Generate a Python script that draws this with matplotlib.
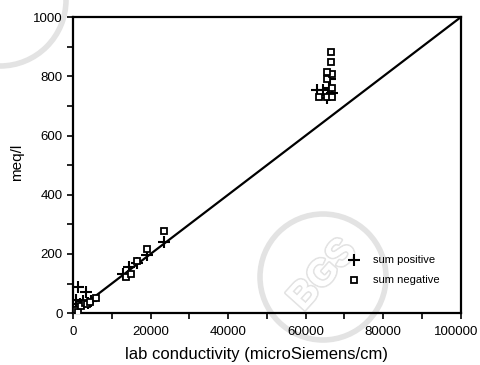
import matplotlib
matplotlib.use("Agg")
from matplotlib import pyplot as plt
from matplotlib.patches import Circle
from matplotlib.transforms import ScaledTranslation
import matplotlib.patheffects as pe
import numpy as np

plt.rcParams['font.family'] = ['Liberation Sans', 'DejaVu Sans']

# lab conductivity (microSiemens/cm) vs ion sums (meq/l)
pos_x = [300, 700, 900, 1400, 1800, 2600, 3400, 4000, 4600, 12800, 14500, 16400,
         19200, 23500, 63000, 64500, 65800, 66200, 65500, 66800, 66000]
pos_y = [5, 20, 45, 89, 30, 40, 72, 35, 42, 134, 156, 169,
         196, 242, 753, 753, 736, 790, 727, 745, 760]
neg_x = [200, 800, 1400, 2200, 3100, 3700, 4400, 5900, 13600, 15000, 16400,
         19200, 23500, 63500, 65400, 66700, 65400, 66700, 66700, 65400, 66500, 66500]
neg_y = [2, 12, 5, 25, 33, 30, 38, 52, 121, 134, 176,
         218, 277, 729, 729, 729, 790, 762, 807, 815, 848, 882]
line_x = [0, 100000]
line_y = [0, 1000]

fig = plt.figure(figsize=(4.8, 3.65), dpi=100)
ax = fig.add_axes([0.152, 0.142, 0.808, 0.811])
ax.patch.set_alpha(0)

# faint watermark (pixel coordinates)
wm = '#e3e3e3'
fig.patches.append(Circle((323, 88), 63, transform=None, fill=False,
                          edgecolor=wm, lw=4, zorder=-5))
fig.patches.append(Circle((0, 365), 66, transform=None, fill=False,
                          edgecolor=wm, lw=4, zorder=-5))
t = fig.text(323 / 480, 90 / 365, 'BGS', rotation=48, ha='center', va='center',
             fontsize=27, fontweight='bold', color='white', zorder=-4)
t.set_path_effects([pe.withStroke(linewidth=2.5, foreground=wm), pe.Normal()])

ax.plot(line_x, line_y, color='black', lw=1.6, zorder=2)
ax.plot(pos_x, pos_y, linestyle='none', marker='+', ms=8, mew=1.5, color='black',
        label='sum positive', zorder=3)
ax.plot(neg_x, neg_y, linestyle='none', marker='s', ms=4.5, mew=1.3, mfc='white',
        mec='black', label='sum negative', zorder=3)

ax.set_xlim(0, 100000)
ax.set_ylim(0, 1000)
ax.set_xticks(np.arange(0, 100001, 20000))
ax.set_xticks(np.arange(0, 100001, 10000), minor=True)
ax.set_yticks(np.arange(0, 1001, 200))
ax.set_yticks(np.arange(0, 1001, 100), minor=True)
ax.tick_params(which='both', direction='out', top=False, right=False, width=1.2,
               length=4, labelsize=9.5, colors='black')
ax.tick_params(axis='x', pad=5)
for s in ax.spines.values():
    s.set_linewidth(1.6)

# keep the last x label inside the picture
last = ax.get_xticklabels()[-1]
last.set_transform(last.get_transform() + ScaledTranslation(-5 / 100, 0, fig.dpi_scale_trans))

ax.set_xlabel('lab conductivity (microSiemens/cm)', fontsize=12)
ax.xaxis.set_label_coords(0.472, -0.115)
ax.set_ylabel('meq/l', fontsize=11)
ax.yaxis.set_label_coords(-0.125, 0.51)

ax.legend(loc='lower right', bbox_to_anchor=(0.97, 0.06), frameon=False, fontsize=8,
          handletextpad=1.2, labelspacing=0.9, handlelength=1.0)

fig.savefig('out.png', dpi=100)
